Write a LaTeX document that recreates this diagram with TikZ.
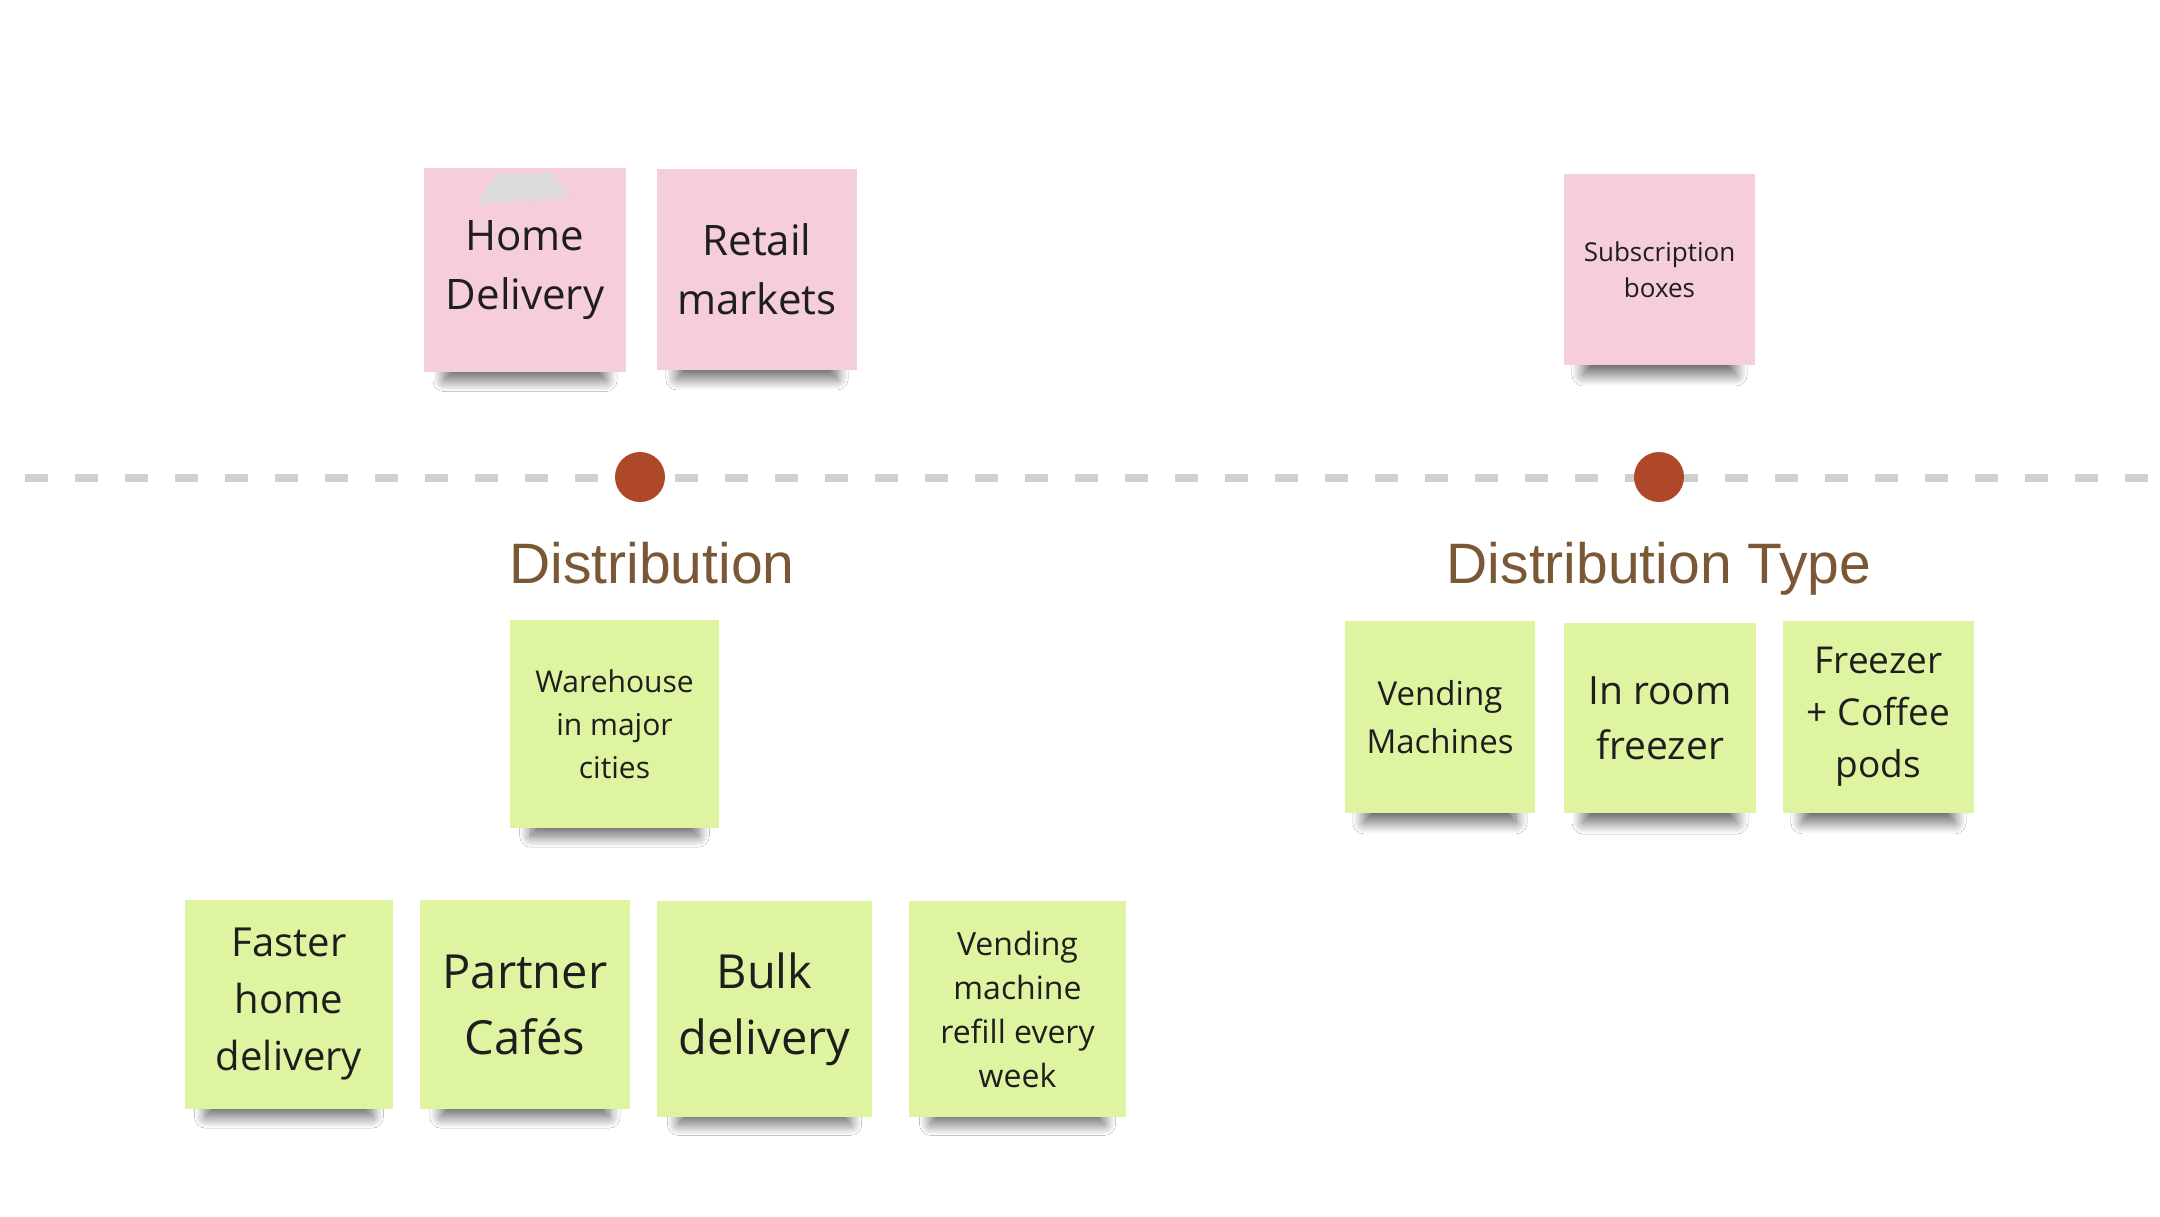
\documentclass[tikz,border=0pt]{standalone}
\usepackage{fontspec}
\setmainfont{Open Sans}
\newfontfamily\titlefont{Liberation Sans}
\usetikzlibrary{shadows.blur}
\definecolor{notepink}{HTML}{F5CDDB}
\definecolor{notegreen}{HTML}{DEF4A0}
\definecolor{dotred}{HTML}{AE4828}
\definecolor{titlebrown}{HTML}{7B5835}
\definecolor{dashgrey}{HTML}{D0D0D0}
\definecolor{tapegrey}{HTML}{DCDCDC}
\definecolor{ink}{HTML}{1E1E1E}
\newcommand{\notesize}[2]{\fontsize{#1}{#2}\selectfont}

\begin{document}
\begin{tikzpicture}[x=1pt,y=-1pt,
    note/.style 2 args={minimum width=#1, minimum height=#2, inner sep=0pt, align=center, text=ink,
        blur shadow={shadow xshift=0pt, shadow yshift=-36pt, shadow scale=0.8,
            shadow blur radius=14pt, shadow blur steps=24, shadow opacity=60}},
    pinknote/.style 2 args={note={#1}{#2}, fill=notepink},
    greennote/.style 2 args={note={#1}{#2}, fill=notegreen},
    dot/.style={circle, fill=dotred, minimum size=50pt, inner sep=0pt},
    heading/.style={anchor=base, text=titlebrown, font=\titlefont\fontsize{57}{68}\selectfont}]
    \useasboundingbox (0,0) rectangle (2160,1216);
    \fill[white] (0,0) rectangle (2160,1216);

    % timeline
    \coordinate (lineL) at (25,478);
    \coordinate (lineR) at (2160,478);
    \draw[dashgrey, line width=8pt, dash pattern=on 23pt off 27pt] (lineL) -- (lineR);
    \node[dot] (dotA) at (640,477) {};
    \node[dot] (dotB) at (1659,477) {};

    % above the line
    \node[pinknote={202}{204}, font=\notesize{42}{59}] (home) at (525,270) {Home\\Delivery};
    \fill[tapegrey] (497,174) -- (553,173) -- (569,198) -- (477,203) -- cycle;
    \node[pinknote={200}{201}, font=\notesize{42}{59}] (retail) at (757,269.5) {Retail\\markets};
    \node[pinknote={191}{191}, font=\notesize{26}{36}] (subs) at (1659.5,269.5) {Subscription\\boxes};

    % headings
    \node[heading] (dist) at (652,583) {Distribution};
    \node[heading] (disttype) at (1659,583) {Distribution Type};

    % below the line
    \node[greennote={209}{208}, font=\notesize{30}{43}] (warehouse) at (614.5,724) {Warehouse\\in major\\cities};
    \node[greennote={208}{209}, font=\notesize{40}{57}] (faster) at (289,1004.5) {Faster\\home\\delivery};
    \node[greennote={210}{209}, font=\notesize{47}{66}] (partner) at (525,1004.5) {Partner\\Cafés};
    \node[greennote={215}{216}, font=\notesize{47}{66}] (bulk) at (764.5,1009) {Bulk\\delivery};
    \node[greennote={217}{216}, font=\notesize{32}{44}] (refill) at (1017.5,1009) {Vending\\machine\\refill every\\week};

    \node[greennote={190}{192}, font=\notesize{33}{48}] (vending) at (1440,717) {Vending\\Machines};
    \node[greennote={192}{190}, font=\notesize{39}{55}] (inroom) at (1660,718) {In room\\freezer};
    \node[greennote={191}{192}, font=\notesize{37}{52}] (pods) at (1878.5,717) {Freezer\\+ Coffee\\pods};
\end{tikzpicture}
\end{document}
